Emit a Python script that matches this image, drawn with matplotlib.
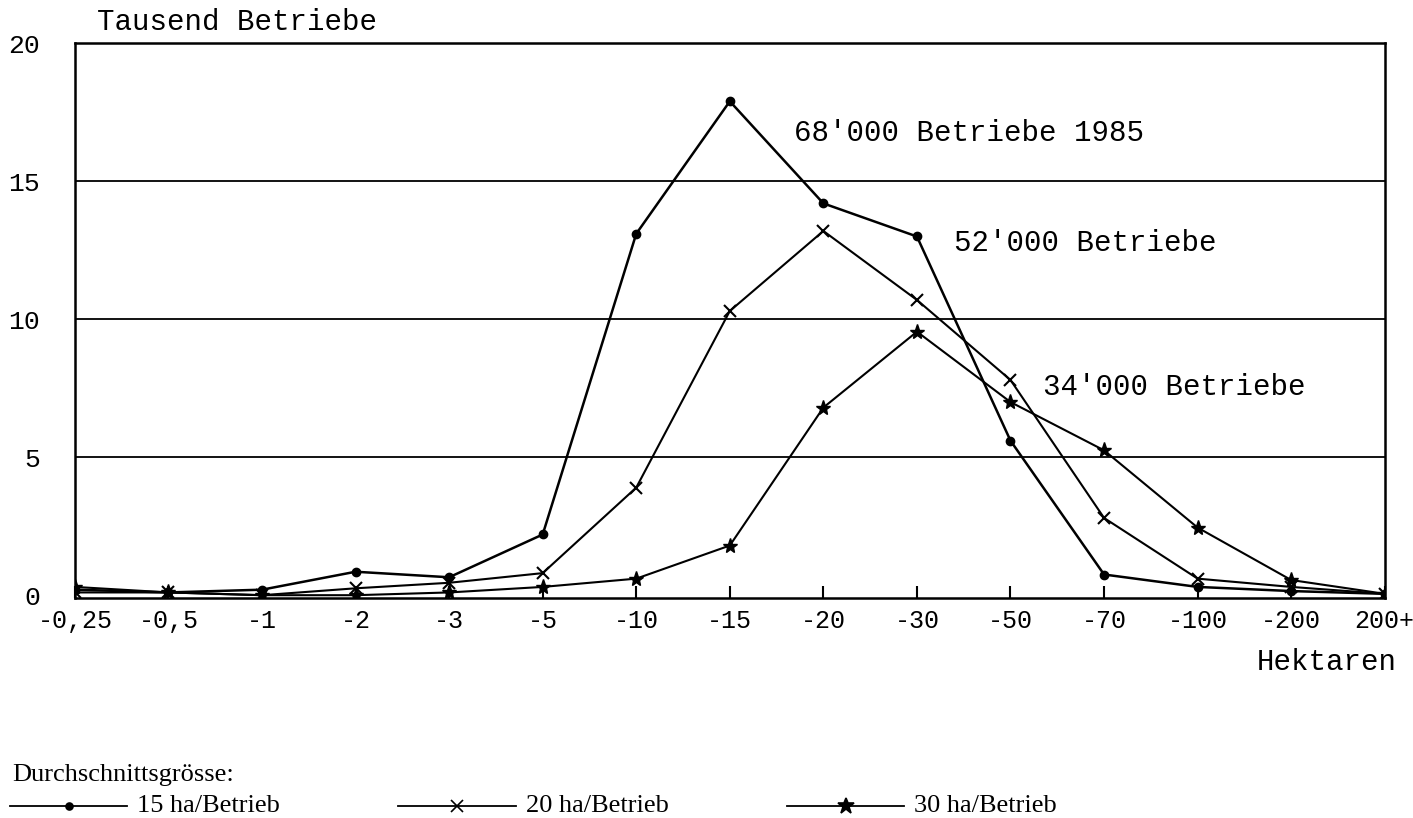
import matplotlib.pyplot as plt

# Betriebsgrössenklassen (Hektaren)
classes = ["-0,25", "-0,5", "-1", "-2", "-3", "-5", "-10", "-15",
           "-20", "-30", "-50", "-70", "-100", "-200", "200+"]

# Tausend Betriebe je Klasse
avg_15ha = [0.2, 0.1, 0.2, 0.85, 0.65, 2.2, 13.1, 17.9, 14.2, 13.0, 5.6, 0.75, 0.3, 0.15, 0.05]
avg_20ha = [0.1, 0.1, 0.0, 0.25, 0.45, 0.8, 3.9, 10.3, 13.2, 10.7, 7.8, 2.8, 0.6, 0.3, 0.05]
avg_30ha = [0.3, 0.1, 0.0, 0.0, 0.1, 0.3, 0.6, 1.8, 6.8, 9.55, 7.0, 5.25, 2.45, 0.55, 0.05]

mono = "Liberation Mono"
serif = "Liberation Serif"

fig = plt.figure(figsize=(14.13, 8.18), dpi=100)
ax = fig.add_axes([0.053, 0.269, 0.927, 0.678])

x = list(range(len(classes)))
ax.plot(x, avg_15ha, color="black", lw=1.8, marker="o", ms=6)
ax.plot(x, avg_20ha, color="black", lw=1.5, marker="x", ms=9, mew=1.5)
ax.plot(x, avg_30ha, color="black", lw=1.5, marker="*", ms=11)

for v in (5, 10, 15):
    ax.axhline(v, color="black", lw=1.3)

ax.set_xlim(0, len(classes) - 1)
ax.set_ylim(-0.1, 20)
ax.set_xticks(x)
ax.set_xticklabels(classes, fontfamily=mono, fontsize=18)
ax.set_yticks([0, 5, 10, 15, 20])
ax.set_yticklabels(["0", "5", "10", "15", "20"], fontfamily=mono, fontsize=19)
ax.tick_params(axis="x", direction="in", length=9, width=1.5, pad=8)
ax.tick_params(axis="y", length=0, pad=25)
for s in ax.spines.values():
    s.set_linewidth(1.8)

ax.text(7.69, 16.75, "68'000 Betriebe 1985", fontfamily=mono, fontsize=21, va="center")
ax.text(9.40, 12.76, "52'000 Betriebe", fontfamily=mono, fontsize=21, va="center")
ax.text(10.35, 7.54, "34'000 Betriebe", fontfamily=mono, fontsize=21, va="center")

fig.text(0.0686, 0.973, "Tausend Betriebe", fontfamily=mono, fontsize=21, va="center")
fig.text(0.9887, 0.191, "Hektaren", fontfamily=mono, fontsize=21, va="center", ha="right")

# Legende unten
fig.text(0.0085, 0.0526, "Durchschnittsgrösse:", fontfamily=serif, fontsize=19, va="center")
legend_items = [("o", 5, "15 ha/Betrieb", 0.007), ("x", 9, "20 ha/Betrieb", 0.282),
                ("*", 12, "30 ha/Betrieb", 0.557)]
for mk, ms, label, x0 in legend_items:
    fig.add_artist(plt.Line2D([x0, x0 + 0.083], [0.0147, 0.0147], color="black", lw=1.3,
                              transform=fig.transFigure))
    fig.add_artist(plt.Line2D([x0 + 0.0415], [0.0147], color="black", marker=mk, ms=ms,
                              mew=1.2, transform=fig.transFigure))
    fig.text(x0 + 0.090, 0.0147, label, fontfamily=serif, fontsize=19, va="center")

fig.savefig("out.png", dpi=100)
